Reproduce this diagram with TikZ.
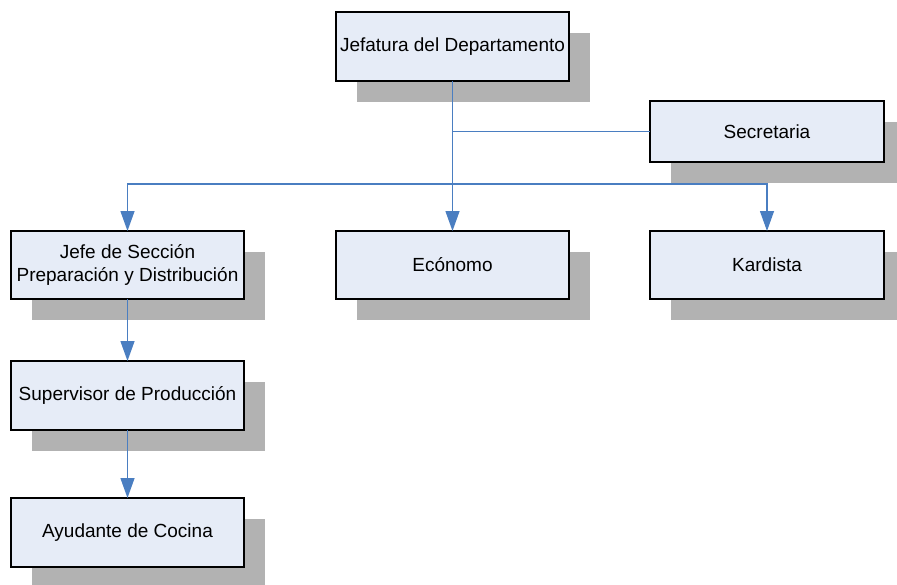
\documentclass[tikz,border=0pt]{standalone}
\usepackage{fontspec}
\setmainfont{Liberation Sans}
\usetikzlibrary{shadows,arrows.meta}
\definecolor{boxfill}{RGB}{230,236,247}
\definecolor{shadowgray}{RGB}{178,178,178}
\definecolor{linkblue}{RGB}{74,126,193}

\begin{document}
\begin{tikzpicture}[x=1pt,y=1pt]
	% `post' is used for the boxes of the chart.
	% `link' is used for the blue connectors.
	\tikzstyle{post} = [draw=black,line width=1.2pt,fill=boxfill,inner sep=0pt,outer sep=0pt,
		minimum width=233pt,minimum height=68pt,align=center,
		font=\fontsize{19}{23}\selectfont,
		drop shadow={shadow xshift=21pt,shadow yshift=-21pt,fill=shadowgray,opacity=1}]
	\tikzstyle{link} = [draw=linkblue,line width=1.3pt]
	\tikzstyle{arrow} = [link,-{Triangle[length=20pt,width=14pt]}]
	\useasboundingbox (0,0) rectangle (897,-584);
	%
	% First level.
	\node[post,minimum height=69pt] (jefatura) at (452.5,-46.5) {Jefatura del Departamento};
	\node[post,minimum width=234pt,minimum height=61pt] (secretaria) at (767,-131.5) {Secretaria};
	% Second level.
	\node[post] (jefe) at (127.5,-265) {Jefe de Sección\\Preparación y Distribución};
	\node[post] (economo) at (452.5,-265) {Ecónomo};
	\node[post,minimum width=234pt] (kardista) at (767,-265) {Kardista};
	% Third and fourth level.
	\node[post,minimum height=69pt] (supervisor) at (127.5,-395.5) {Supervisor de Producción};
	\node[post,minimum height=69pt] (ayudante) at (127.5,-532.5) {Ayudante de Cocina};
	%
	\coordinate (bus) at (0,-184);
	% Draw lines.
	\draw[link] (jefatura.south) |- (secretaria.west);
	\draw[arrow] (jefatura.south) -- (economo.north);
	\draw[arrow] (jefatura.south) -- (jefatura.south |- bus) -| (jefe.north);
	\draw[arrow] (jefatura.south) -- (jefatura.south |- bus) -| (kardista.north);
	\draw[arrow] (jefe) -- (supervisor);
	\draw[arrow] (supervisor) -- (ayudante);
%
\end{tikzpicture}
\end{document}
